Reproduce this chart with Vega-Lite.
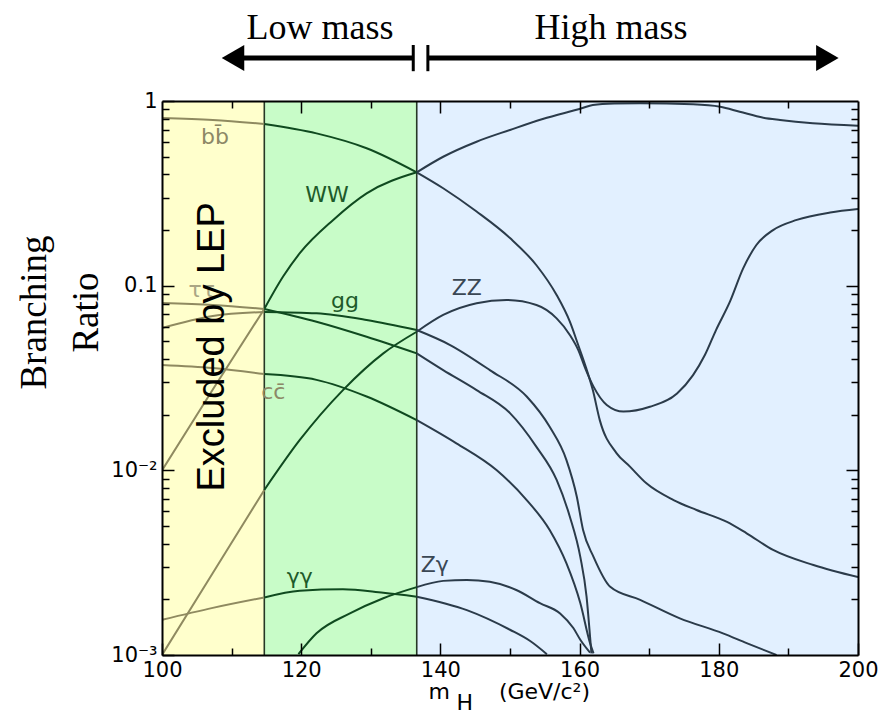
{
  "$schema": "https://vega.github.io/schema/vega-lite/v6.json",
  "width": 696,
  "height": 554,
  "autosize": "none",
  "padding": {"left": 162, "top": 101, "right": 30, "bottom": 59},
  "background": "white",
  "config": {
    "view": {"stroke": null},
    "axis": {"grid": false, "zindex": 3, "domainColor": "black", "domainWidth": 2, "tickColor": "black", "tickWidth": 1.5, "labelFont": "DejaVu Sans", "labelFontSize": 21, "labelColor": "black"}
  },
  "datasets": {
    "regions": [
      {"region": "low", "m1": 100, "m2": 114.7},
      {"region": "mid", "m1": 114.7, "m2": 136.6},
      {"region": "high", "m1": 136.6, "m2": 200}
    ],
    "bounds": [{"m": 114.7}, {"m": 136.6}],
    "curves": [
      {"curve": "bb", "region": "low", "m": 100, "br": 0.809},
      {"curve": "bb", "region": "low", "m": 107.3, "br": 0.789},
      {"curve": "bb", "region": "low", "m": 114.7, "br": 0.751},
      {"curve": "bb", "region": "mid", "m": 114.7, "br": 0.751},
      {"curve": "bb", "region": "mid", "m": 122.2, "br": 0.668},
      {"curve": "bb", "region": "mid", "m": 129.4, "br": 0.555},
      {"curve": "bb", "region": "mid", "m": 136.6, "br": 0.411},
      {"curve": "bb", "region": "high", "m": 136.6, "br": 0.411},
      {"curve": "bb", "region": "high", "m": 140.4, "br": 0.337},
      {"curve": "bb", "region": "high", "m": 145.2, "br": 0.252},
      {"curve": "bb", "region": "high", "m": 150.0, "br": 0.181},
      {"curve": "bb", "region": "high", "m": 153.8, "br": 0.129},
      {"curve": "bb", "region": "high", "m": 156.7, "br": 0.089},
      {"curve": "bb", "region": "high", "m": 158.6, "br": 0.0638},
      {"curve": "bb", "region": "high", "m": 159.8, "br": 0.0477},
      {"curve": "bb", "region": "high", "m": 160.8, "br": 0.0372},
      {"curve": "bb", "region": "high", "m": 161.9, "br": 0.0272},
      {"curve": "bb", "region": "high", "m": 162.9, "br": 0.0187},
      {"curve": "bb", "region": "high", "m": 165.3, "br": 0.0124},
      {"curve": "bb", "region": "high", "m": 167.2, "br": 0.0105},
      {"curve": "bb", "region": "high", "m": 169.6, "br": 0.0085},
      {"curve": "bb", "region": "high", "m": 173.5, "br": 0.0069},
      {"curve": "bb", "region": "high", "m": 176.8, "br": 0.0061},
      {"curve": "bb", "region": "high", "m": 181.1, "br": 0.00527},
      {"curve": "bb", "region": "high", "m": 184.0, "br": 0.00456},
      {"curve": "bb", "region": "high", "m": 187.8, "br": 0.00371},
      {"curve": "bb", "region": "high", "m": 193.6, "br": 0.00307},
      {"curve": "bb", "region": "high", "m": 200, "br": 0.00264},

      {"curve": "WW", "region": "low", "m": 100, "br": 0.01},
      {"curve": "WW", "region": "low", "m": 107.3, "br": 0.0274},
      {"curve": "WW", "region": "low", "m": 114.7, "br": 0.0748},
      {"curve": "WW", "region": "mid", "m": 114.7, "br": 0.0748},
      {"curve": "WW", "region": "mid", "m": 117.4, "br": 0.112},
      {"curve": "WW", "region": "mid", "m": 119.8, "br": 0.15},
      {"curve": "WW", "region": "mid", "m": 124.6, "br": 0.227},
      {"curve": "WW", "region": "mid", "m": 129.4, "br": 0.316},
      {"curve": "WW", "region": "mid", "m": 136.6, "br": 0.411},
      {"curve": "WW", "region": "high", "m": 136.6, "br": 0.411},
      {"curve": "WW", "region": "high", "m": 140.4, "br": 0.499},
      {"curve": "WW", "region": "high", "m": 145.2, "br": 0.602},
      {"curve": "WW", "region": "high", "m": 150.0, "br": 0.697},
      {"curve": "WW", "region": "high", "m": 154.7, "br": 0.799},
      {"curve": "WW", "region": "high", "m": 160.3, "br": 0.913},
      {"curve": "WW", "region": "high", "m": 161.9, "br": 0.951},
      {"curve": "WW", "region": "high", "m": 165.0, "br": 0.968},
      {"curve": "WW", "region": "high", "m": 168.7, "br": 0.972},
      {"curve": "WW", "region": "high", "m": 176.3, "br": 0.96},
      {"curve": "WW", "region": "high", "m": 180.2, "br": 0.931},
      {"curve": "WW", "region": "high", "m": 183.0, "br": 0.875},
      {"curve": "WW", "region": "high", "m": 186.4, "br": 0.812},
      {"curve": "WW", "region": "high", "m": 188.8, "br": 0.789},
      {"curve": "WW", "region": "high", "m": 193.5, "br": 0.757},
      {"curve": "WW", "region": "high", "m": 200, "br": 0.735},

      {"curve": "tautau", "region": "low", "m": 100, "br": 0.0805},
      {"curve": "tautau", "region": "low", "m": 107.3, "br": 0.0786},
      {"curve": "tautau", "region": "low", "m": 114.7, "br": 0.0748},
      {"curve": "tautau", "region": "mid", "m": 114.7, "br": 0.0748},
      {"curve": "tautau", "region": "mid", "m": 122.2, "br": 0.0638},
      {"curve": "tautau", "region": "mid", "m": 129.4, "br": 0.0529},
      {"curve": "tautau", "region": "mid", "m": 136.6, "br": 0.043},
      {"curve": "tautau", "region": "high", "m": 136.6, "br": 0.043},
      {"curve": "tautau", "region": "high", "m": 140.4, "br": 0.0349},
      {"curve": "tautau", "region": "high", "m": 145.2, "br": 0.0272},
      {"curve": "tautau", "region": "high", "m": 150.0, "br": 0.0204},
      {"curve": "tautau", "region": "high", "m": 153.8, "br": 0.0134},
      {"curve": "tautau", "region": "high", "m": 156.7, "br": 0.00887},
      {"curve": "tautau", "region": "high", "m": 158.6, "br": 0.00561},
      {"curve": "tautau", "region": "high", "m": 160.1, "br": 0.0034},
      {"curve": "tautau", "region": "high", "m": 161.0, "br": 0.00207},
      {"curve": "tautau", "region": "high", "m": 161.5, "br": 0.00126},
      {"curve": "tautau", "region": "high", "m": 161.7, "br": 0.00102},

      {"curve": "gg", "region": "low", "m": 100, "br": 0.059},
      {"curve": "gg", "region": "low", "m": 107.3, "br": 0.0685},
      {"curve": "gg", "region": "low", "m": 114.7, "br": 0.072},
      {"curve": "gg", "region": "mid", "m": 114.7, "br": 0.072},
      {"curve": "gg", "region": "mid", "m": 122.2, "br": 0.0708},
      {"curve": "gg", "region": "mid", "m": 129.4, "br": 0.0652},
      {"curve": "gg", "region": "mid", "m": 136.6, "br": 0.0575},
      {"curve": "gg", "region": "high", "m": 136.6, "br": 0.0575},
      {"curve": "gg", "region": "high", "m": 141.4, "br": 0.0477},
      {"curve": "gg", "region": "high", "m": 147.1, "br": 0.0349},
      {"curve": "gg", "region": "high", "m": 152.4, "br": 0.0251},
      {"curve": "gg", "region": "high", "m": 155.7, "br": 0.0172},
      {"curve": "gg", "region": "high", "m": 158.1, "br": 0.0114},
      {"curve": "gg", "region": "high", "m": 159.6, "br": 0.0072},
      {"curve": "gg", "region": "high", "m": 160.5, "br": 0.00475},
      {"curve": "gg", "region": "high", "m": 162.0, "br": 0.0034},
      {"curve": "gg", "region": "high", "m": 164.4, "br": 0.00234},
      {"curve": "gg", "region": "high", "m": 168.7, "br": 0.00199},
      {"curve": "gg", "region": "high", "m": 174.4, "br": 0.00158},
      {"curve": "gg", "region": "high", "m": 180.6, "br": 0.00131},
      {"curve": "gg", "region": "high", "m": 184.0, "br": 0.00116},
      {"curve": "gg", "region": "high", "m": 188.3, "br": 0.001},

      {"curve": "cc", "region": "low", "m": 100, "br": 0.0372},
      {"curve": "cc", "region": "low", "m": 107.3, "br": 0.0358},
      {"curve": "cc", "region": "low", "m": 114.7, "br": 0.0332},
      {"curve": "cc", "region": "mid", "m": 114.7, "br": 0.0332},
      {"curve": "cc", "region": "mid", "m": 122.2, "br": 0.0309},
      {"curve": "cc", "region": "mid", "m": 129.4, "br": 0.0251},
      {"curve": "cc", "region": "mid", "m": 136.6, "br": 0.0187},
      {"curve": "cc", "region": "high", "m": 136.6, "br": 0.0187},
      {"curve": "cc", "region": "high", "m": 142.3, "br": 0.014},
      {"curve": "cc", "region": "high", "m": 148.1, "br": 0.01},
      {"curve": "cc", "region": "high", "m": 152.4, "br": 0.0069},
      {"curve": "cc", "region": "high", "m": 155.7, "br": 0.00475},
      {"curve": "cc", "region": "high", "m": 158.1, "br": 0.00314},
      {"curve": "cc", "region": "high", "m": 160.1, "br": 0.00191},
      {"curve": "cc", "region": "high", "m": 161.5, "br": 0.00116},
      {"curve": "cc", "region": "high", "m": 162.0, "br": 0.00102},

      {"curve": "ZZ", "region": "low", "m": 100, "br": 0.001},
      {"curve": "ZZ", "region": "low", "m": 107.3, "br": 0.00278},
      {"curve": "ZZ", "region": "low", "m": 114.7, "br": 0.00783},
      {"curve": "ZZ", "region": "mid", "m": 114.7, "br": 0.00783},
      {"curve": "ZZ", "region": "mid", "m": 119.8, "br": 0.0146},
      {"curve": "ZZ", "region": "mid", "m": 126.0, "br": 0.0272},
      {"curve": "ZZ", "region": "mid", "m": 131.8, "br": 0.043},
      {"curve": "ZZ", "region": "mid", "m": 136.6, "br": 0.0563},
      {"curve": "ZZ", "region": "high", "m": 136.6, "br": 0.0563},
      {"curve": "ZZ", "region": "high", "m": 140.4, "br": 0.0694},
      {"curve": "ZZ", "region": "high", "m": 145.2, "br": 0.0803},
      {"curve": "ZZ", "region": "high", "m": 149.5, "br": 0.0836},
      {"curve": "ZZ", "region": "high", "m": 153.8, "br": 0.0786},
      {"curve": "ZZ", "region": "high", "m": 156.7, "br": 0.0665},
      {"curve": "ZZ", "region": "high", "m": 158.6, "br": 0.0541},
      {"curve": "ZZ", "region": "high", "m": 159.8, "br": 0.0449},
      {"curve": "ZZ", "region": "high", "m": 160.8, "br": 0.0358},
      {"curve": "ZZ", "region": "high", "m": 162.0, "br": 0.0284},
      {"curve": "ZZ", "region": "high", "m": 163.9, "br": 0.0226},
      {"curve": "ZZ", "region": "high", "m": 166.3, "br": 0.0208},
      {"curve": "ZZ", "region": "high", "m": 170.1, "br": 0.0221},
      {"curve": "ZZ", "region": "high", "m": 174.0, "br": 0.0261},
      {"curve": "ZZ", "region": "high", "m": 176.3, "br": 0.0328},
      {"curve": "ZZ", "region": "high", "m": 178.0, "br": 0.0421},
      {"curve": "ZZ", "region": "high", "m": 179.6, "br": 0.0575},
      {"curve": "ZZ", "region": "high", "m": 181.6, "br": 0.0819},
      {"curve": "ZZ", "region": "high", "m": 183.5, "br": 0.124},
      {"curve": "ZZ", "region": "high", "m": 185.4, "br": 0.166},
      {"curve": "ZZ", "region": "high", "m": 187.8, "br": 0.2},
      {"curve": "ZZ", "region": "high", "m": 191.2, "br": 0.227},
      {"curve": "ZZ", "region": "high", "m": 196.0, "br": 0.249},
      {"curve": "ZZ", "region": "high", "m": 200, "br": 0.26},

      {"curve": "gamgam", "region": "low", "m": 100, "br": 0.00155},
      {"curve": "gamgam", "region": "low", "m": 107.3, "br": 0.0018},
      {"curve": "gamgam", "region": "low", "m": 114.7, "br": 0.00205},
      {"curve": "gamgam", "region": "mid", "m": 114.7, "br": 0.00205},
      {"curve": "gamgam", "region": "mid", "m": 119.8, "br": 0.00223},
      {"curve": "gamgam", "region": "mid", "m": 126.0, "br": 0.00227},
      {"curve": "gamgam", "region": "mid", "m": 131.8, "br": 0.00217},
      {"curve": "gamgam", "region": "mid", "m": 136.6, "br": 0.00207},
      {"curve": "gamgam", "region": "high", "m": 136.6, "br": 0.00207},
      {"curve": "gamgam", "region": "high", "m": 143.8, "br": 0.00175},
      {"curve": "gamgam", "region": "high", "m": 150.0, "br": 0.00137},
      {"curve": "gamgam", "region": "high", "m": 152.9, "br": 0.00119},
      {"curve": "gamgam", "region": "high", "m": 155.3, "br": 0.00101},

      {"curve": "Zgam", "region": "mid", "m": 119.6, "br": 0.00101},
      {"curve": "Zgam", "region": "mid", "m": 122.2, "br": 0.00131},
      {"curve": "Zgam", "region": "mid", "m": 127.0, "br": 0.00168},
      {"curve": "Zgam", "region": "mid", "m": 131.8, "br": 0.00203},
      {"curve": "Zgam", "region": "mid", "m": 136.6, "br": 0.00233},
      {"curve": "Zgam", "region": "high", "m": 136.6, "br": 0.00233},
      {"curve": "Zgam", "region": "high", "m": 140.4, "br": 0.00252},
      {"curve": "Zgam", "region": "high", "m": 143.8, "br": 0.00255},
      {"curve": "Zgam", "region": "high", "m": 147.1, "br": 0.00249},
      {"curve": "Zgam", "region": "high", "m": 150.9, "br": 0.00225},
      {"curve": "Zgam", "region": "high", "m": 154.3, "br": 0.00191},
      {"curve": "Zgam", "region": "high", "m": 157.2, "br": 0.00168},
      {"curve": "Zgam", "region": "high", "m": 159.1, "br": 0.0014},
      {"curve": "Zgam", "region": "high", "m": 160.1, "br": 0.00121},
      {"curve": "Zgam", "region": "high", "m": 161.5, "br": 0.00103}
    ],
    "labels": [
      {"label": "bb̄", "kind": "low", "m": 107.6, "br": 0.638},
      {"label": "WW", "kind": "mid", "m": 123.7, "br": 0.31},
      {"label": "ττ", "kind": "faint", "m": 105.7, "br": 0.0948},
      {"label": "gg", "kind": "mid", "m": 126.3, "br": 0.0829},
      {"label": "cc̄", "kind": "low", "m": 116.0, "br": 0.0267},
      {"label": "ZZ", "kind": "high", "m": 143.8, "br": 0.0968},
      {"label": "γγ", "kind": "mid", "m": 119.8, "br": 0.00265},
      {"label": "Zγ", "kind": "high", "m": 139.2, "br": 0.00307}
    ],
    "excluded": [{"text": "Excluded by LEP", "m": 107.3, "br": 0.0466}],
    "heads": [{"dir": "left", "m": 110.2, "br": 1.71}, {"dir": "right", "m": 195.6, "br": 1.71}],
    "shafts": [{"m1": 110.2, "m2": 136.1, "br": 1.71}, {"m1": 138.2, "m2": 195.6, "br": 1.71}],
    "bars": [{"m": 136.1, "lo": 1.45, "hi": 2.01}, {"m": 138.2, "lo": 1.45, "hi": 2.01}],
    "toptext": [{"text": "Low mass", "m": 122.7, "br": 2.48}, {"text": "High mass", "m": 164.5, "br": 2.48}]
  },
  "layer": [
    {
      "data": {"name": "regions"},
      "mark": {"type": "rect"},
      "encoding": {
        "x": {"field": "m1", "type": "quantitative", "scale": {"domain": [100, 200], "nice": false, "zero": false}, "axis": null},
        "x2": {"field": "m2"},
        "fill": {"field": "region", "type": "nominal", "scale": {"domain": ["low", "mid", "high"], "range": ["#ffffcc", "#c8fcc8", "#e2f0ff"]}, "legend": null}
      }
    },
    {
      "data": {"name": "bounds"},
      "mark": {"type": "rule", "color": "#263826", "strokeWidth": 1.6},
      "encoding": {
        "x": {"field": "m", "type": "quantitative", "scale": {"domain": [100, 200], "nice": false, "zero": false}, "axis": null}
      }
    },
    {
      "data": {"name": "curves"},
      "mark": {"type": "line", "interpolate": "monotone", "strokeWidth": 2, "clip": true},
      "encoding": {
        "x": {"field": "m", "type": "quantitative", "scale": {"domain": [100, 200], "nice": false, "zero": false},
          "axis": {"orient": "bottom", "zindex": 3, "values": [100, 110, 120, 130, 140, 150, 160, 170, 180, 190, 200],
            "labelExpr": "datum.value % 20 == 0 ? datum.label : ''",
            "tickSize": {"condition": {"test": "datum.value % 20 == 0", "value": -12}, "value": -7},
            "labelPadding": 16, "labelFlush": false,
            "title": ["m\u00a0\u00a0\u00a0\u00a0\u00a0\u00a0\u00a0(GeV/c²)", "\u200b\u2007\u2007H"],
            "titleFont": "DejaVu Sans", "titleFontSize": 22, "titleFontWeight": "normal", "titleAlign": "left", "titleAnchor": "start", "titleX": 266, "titleY": 26, "titleBaseline": "top", "titleLineHeight": 11}},
        "y": {"field": "br", "type": "quantitative", "scale": {"type": "log", "domain": [0.001, 1], "nice": false},
          "axis": {"orient": "left", "zindex": 3, "values": [0.001, 0.002, 0.003, 0.004, 0.005, 0.006, 0.007, 0.008, 0.009, 0.01, 0.02, 0.03, 0.04, 0.05, 0.06, 0.07, 0.08, 0.09, 0.1, 0.2, 0.3, 0.4, 0.5, 0.6, 0.7, 0.8, 0.9, 1],
            "labelExpr": "datum.value == 1 ? '1' : datum.value == 0.1 ? '0.1' : datum.value == 0.01 ? '10⁻²' : datum.value == 0.001 ? '10⁻³' : ''",
            "tickSize": {"condition": {"test": "datum.value == 1 || datum.value == 0.1 || datum.value == 0.01 || datum.value == 0.001", "value": -12}, "value": -7},
            "labelPadding": 17, "labelFlush": false,
            "title": ["Branching", "Ratio"], "titleFont": "Liberation Serif", "titleFontSize": 37, "titleFontWeight": "normal",
            "titleAngle": -90, "titleX": -128, "titleY": 211, "titleAlign": "center", "titleBaseline": "middle", "titleLineHeight": 52}},
        "stroke": {"field": "region", "type": "nominal", "scale": {"domain": ["low", "mid", "high"], "range": ["#8f8a60", "#0f4a1f", "#2b3b4a"]}, "legend": null},
        "detail": [{"field": "curve"}, {"field": "region"}]
      }
    },
    {
      "data": {"name": "labels"},
      "mark": {"type": "text", "font": "DejaVu Sans", "fontSize": 22, "align": "center", "baseline": "middle"},
      "encoding": {
        "x": {"field": "m", "type": "quantitative", "scale": {"domain": [100, 200], "nice": false, "zero": false},
          "axis": {"orient": "top", "zindex": 3, "values": [110, 120, 130, 140, 150, 160, 170, 180, 190], "labels": false, "title": null,
            "tickSize": {"condition": {"test": "datum.value % 20 == 0", "value": -12}, "value": -7}}},
        "y": {"field": "br", "type": "quantitative", "scale": {"type": "log", "domain": [0.001, 1], "nice": false},
          "axis": {"orient": "right", "zindex": 3, "values": [0.002, 0.003, 0.004, 0.005, 0.006, 0.007, 0.008, 0.009, 0.01, 0.02, 0.03, 0.04, 0.05, 0.06, 0.07, 0.08, 0.09, 0.1, 0.2, 0.3, 0.4, 0.5, 0.6, 0.7, 0.8, 0.9], "labels": false, "title": null,
            "tickSize": {"condition": {"test": "datum.value == 0.1 || datum.value == 0.01", "value": -12}, "value": -7}}},
        "text": {"field": "label"},
        "color": {"field": "kind", "type": "nominal", "scale": {"domain": ["low", "faint", "mid", "high"], "range": ["#8c8866", "#aaa684", "#1d5a2a", "#3a4754"]}, "legend": null}
      }
    },
    {
      "data": {"name": "excluded"},
      "mark": {"type": "text", "font": "Liberation Sans", "fontSize": 38, "angle": 270, "align": "center", "baseline": "middle", "color": "black"},
      "encoding": {
        "x": {"field": "m", "type": "quantitative", "scale": {"domain": [100, 200], "nice": false, "zero": false}, "axis": null},
        "y": {"field": "br", "type": "quantitative", "scale": {"type": "log", "domain": [0.001, 1], "nice": false}, "axis": null},
        "text": {"field": "text"}
      }
    },
    {
      "data": {"name": "shafts"},
      "mark": {"type": "rule", "color": "black", "strokeWidth": 5},
      "encoding": {
        "x": {"field": "m1", "type": "quantitative", "scale": {"domain": [100, 200], "nice": false, "zero": false}, "axis": null},
        "x2": {"field": "m2"},
        "y": {"field": "br", "type": "quantitative", "scale": {"type": "log", "domain": [0.001, 1], "nice": false}, "axis": null}
      }
    },
    {
      "data": {"name": "bars"},
      "mark": {"type": "rule", "color": "black", "strokeWidth": 3},
      "encoding": {
        "x": {"field": "m", "type": "quantitative", "scale": {"domain": [100, 200], "nice": false, "zero": false}, "axis": null},
        "y": {"field": "lo", "type": "quantitative", "scale": {"type": "log", "domain": [0.001, 1], "nice": false}, "axis": null},
        "y2": {"field": "hi"}
      }
    },
    {
      "data": {"name": "heads"},
      "mark": {"type": "point", "filled": true, "opacity": 1, "size": 676, "color": "black"},
      "encoding": {
        "x": {"field": "m", "type": "quantitative", "scale": {"domain": [100, 200], "nice": false, "zero": false}, "axis": null},
        "y": {"field": "br", "type": "quantitative", "scale": {"type": "log", "domain": [0.001, 1], "nice": false}, "axis": null},
        "shape": {"field": "dir", "type": "nominal", "scale": {"domain": ["left", "right"], "range": ["triangle-left", "triangle-right"]}, "legend": null}
      }
    },
    {
      "data": {"name": "toptext"},
      "mark": {"type": "text", "font": "Liberation Serif", "fontSize": 36, "align": "center", "baseline": "middle", "color": "black"},
      "encoding": {
        "x": {"field": "m", "type": "quantitative", "scale": {"domain": [100, 200], "nice": false, "zero": false}, "axis": null},
        "y": {"field": "br", "type": "quantitative", "scale": {"type": "log", "domain": [0.001, 1], "nice": false}, "axis": null},
        "text": {"field": "text"}
      }
    }
  ],
  "resolve": {"axis": {"x": "independent", "y": "independent"}}
}
